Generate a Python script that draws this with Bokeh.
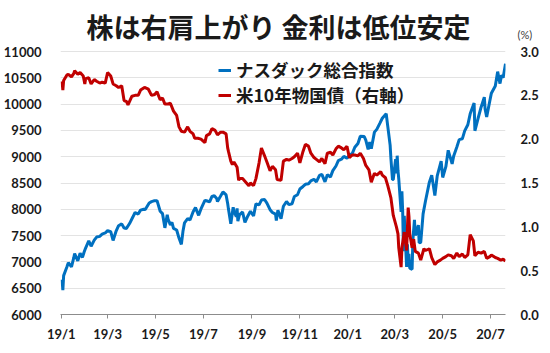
import pandas as pd
from datetime import datetime
from bokeh.plotting import figure
from bokeh.models import (Range1d, LinearAxis, FixedTicker, Legend, LegendItem, Label,
                          ColumnDataSource, NumeralTickFormatter)
from bokeh.embed import file_html
from bokeh.resources import INLINE

# ---------------- data ----------------
title_text = "株は右肩上がり 金利は低位安定"
unit_text = "(%)"
series_names = ["ナスダック総合指数", "米10年物国債（右軸）"]

nasdaq_dates = [
    "2019-01-02", "2019-01-03", "2019-01-04", "2019-01-08", "2019-01-10", "2019-01-14", "2019-01-17", "2019-01-18",
    "2019-01-22", "2019-01-25", "2019-01-28", "2019-01-30", "2019-02-01", "2019-02-05", "2019-02-08", "2019-02-12",
    "2019-02-15", "2019-02-19", "2019-02-22", "2019-02-26", "2019-03-01", "2019-03-05", "2019-03-08", "2019-03-12",
    "2019-03-15", "2019-03-19", "2019-03-22", "2019-03-25", "2019-03-29", "2019-04-02", "2019-04-05", "2019-04-09",
    "2019-04-12", "2019-04-16", "2019-04-18", "2019-04-23", "2019-04-26", "2019-04-29", "2019-05-03", "2019-05-07",
    "2019-05-10", "2019-05-13", "2019-05-16", "2019-05-17", "2019-05-20", "2019-05-22", "2019-05-24", "2019-05-28",
    "2019-05-31", "2019-06-03", "2019-06-05", "2019-06-07", "2019-06-11", "2019-06-14", "2019-06-18", "2019-06-21",
    "2019-06-25", "2019-06-28", "2019-07-03", "2019-07-05", "2019-07-09", "2019-07-12", "2019-07-15", "2019-07-18",
    "2019-07-19", "2019-07-23", "2019-07-26", "2019-07-30", "2019-08-01", "2019-08-02", "2019-08-05", "2019-08-08",
    "2019-08-09", "2019-08-12", "2019-08-13", "2019-08-14", "2019-08-16", "2019-08-20", "2019-08-23", "2019-08-26",
    "2019-08-30", "2019-09-03", "2019-09-06", "2019-09-10", "2019-09-13", "2019-09-17", "2019-09-20", "2019-09-24",
    "2019-09-27", "2019-10-01", "2019-10-02", "2019-10-04", "2019-10-08", "2019-10-11", "2019-10-15", "2019-10-18",
    "2019-10-22", "2019-10-25", "2019-10-29", "2019-11-01", "2019-11-05", "2019-11-08", "2019-11-12", "2019-11-15",
    "2019-11-19", "2019-11-22", "2019-11-26", "2019-11-29", "2019-12-03", "2019-12-06", "2019-12-10", "2019-12-13",
    "2019-12-17", "2019-12-20", "2019-12-24", "2019-12-27", "2019-12-31", "2020-01-03", "2020-01-07", "2020-01-10",
    "2020-01-14", "2020-01-17", "2020-01-22", "2020-01-24", "2020-01-27", "2020-01-29", "2020-01-31", "2020-02-04",
    "2020-02-07", "2020-02-11", "2020-02-14", "2020-02-19", "2020-02-21", "2020-02-24", "2020-02-25", "2020-02-27",
    "2020-02-28", "2020-03-02", "2020-03-03", "2020-03-04", "2020-03-05", "2020-03-06", "2020-03-09", "2020-03-10",
    "2020-03-11", "2020-03-12", "2020-03-13", "2020-03-16", "2020-03-17", "2020-03-18", "2020-03-19", "2020-03-20",
    "2020-03-23", "2020-03-24", "2020-03-26", "2020-03-27", "2020-03-31", "2020-04-01", "2020-04-03", "2020-04-06",
    "2020-04-09", "2020-04-14", "2020-04-17", "2020-04-21", "2020-04-24", "2020-04-29", "2020-05-01", "2020-05-05",
    "2020-05-08", "2020-05-13", "2020-05-15", "2020-05-19", "2020-05-22", "2020-05-26", "2020-05-29", "2020-06-02",
    "2020-06-05", "2020-06-10", "2020-06-11", "2020-06-15", "2020-06-19", "2020-06-23", "2020-06-24", "2020-06-26",
    "2020-06-30", "2020-07-02", "2020-07-07", "2020-07-10", "2020-07-13", "2020-07-15", "2020-07-17", "2020-07-20",
]
nasdaq_values = [
    6665, 6463, 6739, 6897, 6986, 6905, 7084, 7157,
    7020, 7165, 7085, 7183, 7263, 7402, 7298, 7414,
    7472, 7486, 7527, 7550, 7595, 7576, 7408, 7591,
    7688, 7723, 7643, 7637, 7729, 7848, 7939, 7909,
    7984, 8000, 7998, 8121, 8146, 8161, 8164, 7963,
    7917, 7647, 7898, 7816, 7702, 7751, 7637, 7607,
    7453, 7333, 7576, 7742, 7822, 7797, 7954, 8032,
    7885, 8006, 8170, 8162, 8141, 8244, 8258, 8207,
    8146, 8251, 8330, 8273, 8111, 8004, 7726, 8039,
    7959, 7863, 8017, 7774, 7896, 7949, 7751, 7853,
    7963, 7874, 8103, 8084, 8176, 8186, 8118, 7993,
    7940, 7908, 7785, 7982, 7823, 8057, 8148, 8089,
    8104, 8243, 8276, 8386, 8434, 8475, 8486, 8541,
    8571, 8520, 8647, 8665, 8521, 8657, 8616, 8735,
    8823, 8925, 8952, 9007, 8973, 9020, 9068, 9179,
    9251, 9389, 9383, 9315, 9139, 9276, 9151, 9467,
    9520, 9638, 9731, 9817, 9577, 9221, 8966, 8566,
    8567, 8952, 8684, 9019, 8738, 8576, 7950, 8344,
    7953, 7201, 7875, 6905, 7335, 6990, 7151, 6880,
    6860, 7418, 7798, 7502, 7700, 7360, 7373, 7913,
    8153, 8516, 8650, 8263, 8634, 8914, 8605, 8810,
    9121, 8863, 9015, 9185, 9325, 9340, 9490, 9608,
    9815, 10020, 9492, 9726, 9946, 10131, 9909, 9757,
    10059, 10208, 10344, 10617, 10390, 10550, 10503, 10767,
]

yield_dates = [
    "2019-01-02", "2019-01-03", "2019-01-04", "2019-01-08", "2019-01-10", "2019-01-14", "2019-01-17", "2019-01-18",
    "2019-01-22", "2019-01-25", "2019-01-29", "2019-01-31", "2019-02-01", "2019-02-05", "2019-02-08", "2019-02-12",
    "2019-02-15", "2019-02-19", "2019-02-22", "2019-02-26", "2019-03-01", "2019-03-05", "2019-03-08", "2019-03-12",
    "2019-03-15", "2019-03-19", "2019-03-22", "2019-03-25", "2019-03-27", "2019-04-01", "2019-04-05", "2019-04-09",
    "2019-04-12", "2019-04-17", "2019-04-22", "2019-04-26", "2019-04-30", "2019-05-03", "2019-05-07", "2019-05-10",
    "2019-05-13", "2019-05-16", "2019-05-20", "2019-05-24", "2019-05-28", "2019-05-31", "2019-06-03", "2019-06-07",
    "2019-06-11", "2019-06-14", "2019-06-18", "2019-06-20", "2019-06-24", "2019-06-28", "2019-07-03", "2019-07-05",
    "2019-07-09", "2019-07-12", "2019-07-16", "2019-07-19", "2019-07-23", "2019-07-26", "2019-07-30", "2019-08-01",
    "2019-08-02", "2019-08-05", "2019-08-07", "2019-08-09", "2019-08-13", "2019-08-15", "2019-08-16", "2019-08-20",
    "2019-08-23", "2019-08-28", "2019-08-30", "2019-09-03", "2019-09-06", "2019-09-10", "2019-09-13", "2019-09-17",
    "2019-09-20", "2019-09-24", "2019-09-27", "2019-10-01", "2019-10-03", "2019-10-08", "2019-10-11", "2019-10-15",
    "2019-10-18", "2019-10-22", "2019-10-25", "2019-10-29", "2019-11-01", "2019-11-05", "2019-11-08", "2019-11-12",
    "2019-11-15", "2019-11-19", "2019-11-22", "2019-11-26", "2019-11-29", "2019-12-03", "2019-12-06", "2019-12-10",
    "2019-12-13", "2019-12-17", "2019-12-20", "2019-12-24", "2019-12-27", "2019-12-31", "2020-01-03", "2020-01-07",
    "2020-01-10", "2020-01-14", "2020-01-17", "2020-01-21", "2020-01-24", "2020-01-28", "2020-01-31", "2020-02-04",
    "2020-02-07", "2020-02-12", "2020-02-14", "2020-02-18", "2020-02-21", "2020-02-25", "2020-02-28", "2020-03-03",
    "2020-03-05", "2020-03-06", "2020-03-09", "2020-03-10", "2020-03-12", "2020-03-13", "2020-03-16", "2020-03-18",
    "2020-03-19", "2020-03-20", "2020-03-23", "2020-03-25", "2020-03-27", "2020-03-31", "2020-04-03", "2020-04-07",
    "2020-04-09", "2020-04-14", "2020-04-17", "2020-04-21", "2020-04-24", "2020-04-28", "2020-05-01", "2020-05-05",
    "2020-05-08", "2020-05-12", "2020-05-15", "2020-05-19", "2020-05-22", "2020-05-26", "2020-05-29", "2020-06-02",
    "2020-06-05", "2020-06-09", "2020-06-11", "2020-06-15", "2020-06-19", "2020-06-23", "2020-06-26", "2020-06-30",
    "2020-07-02", "2020-07-07", "2020-07-10", "2020-07-14", "2020-07-17", "2020-07-20",
]
yield_values = [
    2.66, 2.56, 2.67, 2.73, 2.74, 2.71, 2.75, 2.78,
    2.74, 2.76, 2.72, 2.63, 2.69, 2.70, 2.63, 2.68,
    2.66, 2.64, 2.65, 2.64, 2.76, 2.72, 2.63, 2.61,
    2.59, 2.61, 2.44, 2.43, 2.39, 2.49, 2.50, 2.50,
    2.56, 2.59, 2.57, 2.50, 2.51, 2.54, 2.45, 2.47,
    2.40, 2.40, 2.41, 2.32, 2.27, 2.14, 2.09, 2.08,
    2.14, 2.09, 2.06, 2.01, 2.01, 2.00, 1.96, 2.04,
    2.06, 2.12, 2.10, 2.05, 2.08, 2.08, 2.06, 1.90,
    1.86, 1.75, 1.71, 1.74, 1.68, 1.53, 1.55, 1.55,
    1.52, 1.47, 1.50, 1.47, 1.55, 1.73, 1.90, 1.81,
    1.74, 1.64, 1.69, 1.65, 1.54, 1.53, 1.75, 1.77,
    1.76, 1.78, 1.80, 1.84, 1.73, 1.86, 1.94, 1.92,
    1.84, 1.79, 1.77, 1.74, 1.78, 1.72, 1.84, 1.85,
    1.82, 1.89, 1.92, 1.90, 1.88, 1.92, 1.79, 1.82,
    1.82, 1.81, 1.84, 1.78, 1.70, 1.65, 1.51, 1.61,
    1.59, 1.63, 1.59, 1.56, 1.47, 1.33, 1.13, 1.00,
    0.92, 0.76, 0.54, 0.76, 0.88, 0.94, 0.73, 1.22,
    1.12, 0.92, 0.76, 0.86, 0.72, 0.70, 0.62, 0.75,
    0.73, 0.75, 0.65, 0.57, 0.60, 0.62, 0.64, 0.66,
    0.68, 0.67, 0.64, 0.70, 0.66, 0.69, 0.65, 0.68,
    0.91, 0.84, 0.67, 0.71, 0.70, 0.72, 0.64, 0.66,
    0.68, 0.65, 0.64, 0.62, 0.63, 0.61,
]

tick_dates = ["2019-01-01", "2019-03-01", "2019-05-01", "2019-07-01", "2019-09-01", "2019-11-01",
              "2020-01-01", "2020-03-01", "2020-05-01", "2020-07-01"]
tick_labels = ["19/1", "19/3", "19/5", "19/7", "19/9", "19/11", "20/1", "20/3", "20/5", "20/7"]

left_ticks = [6000, 6500, 7000, 7500, 8000, 8500, 9000, 9500, 10000, 10500, 11000]
right_ticks = [0.0, 0.5, 1.0, 1.5, 2.0, 2.5, 3.0]

BLUE = "#0070C0"
RED = "#C00000"
NUM_FONT = "Lato"
JP_FONT = "Noto Sans CJK JP"

# ---------------- layout geometry (pixels) ----------------
W, H = 550, 353
B_LEFT, B_RIGHT, B_BOTTOM = 53, 45, 39
FRAME_H = H - B_BOTTOM            # frame runs from the top of the canvas
GRID_TOP_PX = 51                  # pixel row of the top gridline (11000 / 3.0)
UNIT_PX = 34                      # pixel row of the "(%)" note
span_px = FRAME_H - GRID_TOP_PX   # pixels between the 6000 and 11000 gridlines

L0, L1 = left_ticks[0], left_ticks[-1]
R0, R1 = right_ticks[0], right_ticks[-1]
left_top = L0 + (L1 - L0) * FRAME_H / span_px
right_top = R0 + (R1 - R0) * FRAME_H / span_px
unit_pos = R1 + (R1 - R0) * (GRID_TOP_PX - UNIT_PX) / span_px

# ---------------- figure ----------------
src_n = ColumnDataSource(dict(x=pd.to_datetime(nasdaq_dates), y=nasdaq_values))
src_y = ColumnDataSource(dict(x=pd.to_datetime(yield_dates), y=yield_values))

p = figure(width=W, height=H, x_axis_type="datetime",
           x_range=Range1d(datetime(2018, 12, 31), datetime(2020, 7, 20)),
           y_range=Range1d(L0, left_top),
           output_backend="svg", toolbar_location=None,
           min_border_left=B_LEFT, min_border_right=B_RIGHT, min_border_top=0,
           min_border_bottom=B_BOTTOM)
p.extra_y_ranges = {"r": Range1d(R0, right_top)}
p.outline_line_color = None
p.background_fill_color = "white"
p.border_fill_color = "white"

# x axis
tick_ms = [pd.Timestamp(d).value // 10**6 for d in tick_dates]
xa = p.xaxis[0]
xa.ticker = FixedTicker(ticks=tick_ms)
xa.major_label_overrides = {t: l for t, l in zip(tick_ms, tick_labels)}
xa.axis_line_color = "#8c8c8c"
xa.major_tick_line_color = "#8c8c8c"
xa.major_tick_in = 0
xa.major_tick_out = 4
xa.minor_tick_line_color = None
xa.major_label_standoff = 7
xa.major_label_text_font = NUM_FONT
xa.major_label_text_font_style = "bold"
xa.major_label_text_font_size = "13px"
xa.major_label_text_color = "#1a1a1a"

# left axis
ya = p.yaxis[0]
ya.ticker = FixedTicker(ticks=left_ticks)
ya.axis_line_color = None
ya.major_tick_line_color = None
ya.minor_tick_line_color = None
ya.major_label_standoff = 13
ya.major_label_text_font = NUM_FONT
ya.major_label_text_font_style = "bold"
ya.major_label_text_font_size = "13px"
ya.major_label_text_color = "#1a1a1a"

# right side: unit note axis (closest to frame), then the value axis
ua = LinearAxis(y_range_name="r", ticker=FixedTicker(ticks=[unit_pos]),
                major_label_overrides={unit_pos: unit_text})
ua.axis_line_color = None
ua.major_tick_line_color = None
ua.minor_tick_line_color = None
ua.major_tick_out = 0
ua.major_tick_in = 0
ua.major_label_standoff = 12
ua.major_label_text_font = NUM_FONT
ua.major_label_text_font_size = "11px"
ua.major_label_text_color = "#404040"
p.add_layout(ua, "right")

ra = LinearAxis(y_range_name="r", ticker=FixedTicker(ticks=right_ticks),
                formatter=NumeralTickFormatter(format="0.0"))
ra.axis_line_color = None
ra.major_tick_line_color = None
ra.minor_tick_line_color = None
ra.major_tick_out = 0
ra.major_tick_in = 0
ra.major_label_standoff = -15
ra.major_label_text_font = NUM_FONT
ra.major_label_text_font_style = "bold"
ra.major_label_text_font_size = "13px"
ra.major_label_text_color = "#1a1a1a"
p.add_layout(ra, "right")

p.xgrid.grid_line_color = None
p.ygrid.ticker = FixedTicker(ticks=left_ticks[1:])
p.ygrid.grid_line_color = "#e3e3e3"
p.ygrid.grid_line_width = 1

# lines
r_n = p.line("x", "y", source=src_n, line_color=BLUE, line_width=3)
r_y = p.line("x", "y", source=src_y, line_color=RED, line_width=3, y_range_name="r")

legend = Legend(items=[LegendItem(label=series_names[0], renderers=[r_n]),
                       LegendItem(label=series_names[1], renderers=[r_y])],
                location=(158, 207), orientation="vertical",
                label_text_font=JP_FONT, label_text_font_style="bold",
                label_text_font_size="17.5px", label_text_color="#1a1a1a",
                glyph_width=13, glyph_height=20, label_height=20, label_standoff=5,
                spacing=0, padding=0, margin=0,
                border_line_color=None, background_fill_alpha=0)
p.add_layout(legend, "center")

p.add_layout(Label(x=218, y=FRAME_H - 26, x_units="screen", y_units="screen", text=title_text,
                   text_font=JP_FONT, text_font_style="bold", text_font_size="27px",
                   text_align="center", text_baseline="middle", text_color="#1a1a1a"))

open("out.html", "w").write(file_html(p, INLINE))
